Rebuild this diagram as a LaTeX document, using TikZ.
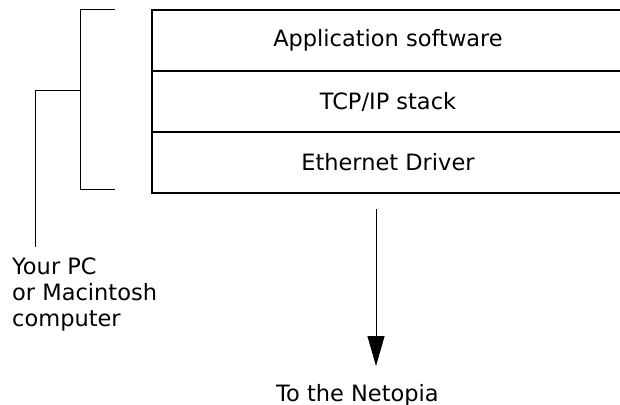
\documentclass[tikz,border=0pt]{standalone}
\usepackage{fontspec}
\setmainfont{DejaVu Sans}
\usetikzlibrary{arrows.meta}
\tikzset{
  layer/.style={draw, line width=1.3pt, minimum width=472pt, minimum height=61pt, inner sep=0pt,
    font=\fontsize{22.5}{26}\selectfont},
  txt/.style={inner sep=0pt, align=left, font=\fontsize{22.5}{26}\selectfont},
  brk/.style={line width=1pt},
  down/.style={line width=1pt, -{Triangle[length=30pt,width=17pt]}}
}

\begin{document}
\begin{tikzpicture}[x=1pt,y=-1pt]
  \useasboundingbox (0,0) rectangle (620,404);

  \node at (388,40.5) [layer] (app) {Application software};
  \node at (388,101.5) [layer] (tcp) {TCP/IP stack};
  \node at (388,162.5) [layer] (drv) {Ethernet Driver};

  \node at (12,326) [txt,anchor=base west] (pc) {Your PC\\or Macintosh\\computer};
  \node at (276,401) [txt,anchor=base west] (net) {To the Netopia};

  \coordinate (btop) at (115,10);
  \coordinate (bbot) at (115,189);
  \coordinate (bmid) at (80,90);
  \coordinate (pcend) at (35,247);
  \coordinate (arrtop) at (376,209);
  \coordinate (arrtip) at (376,366);

  \draw[brk] (btop) -- (80,10) -- (80,189) -- (bbot);
  \draw[brk] (bmid) -| (pcend);
  \draw[down] (arrtop) -- (arrtip);
\end{tikzpicture}
\end{document}
